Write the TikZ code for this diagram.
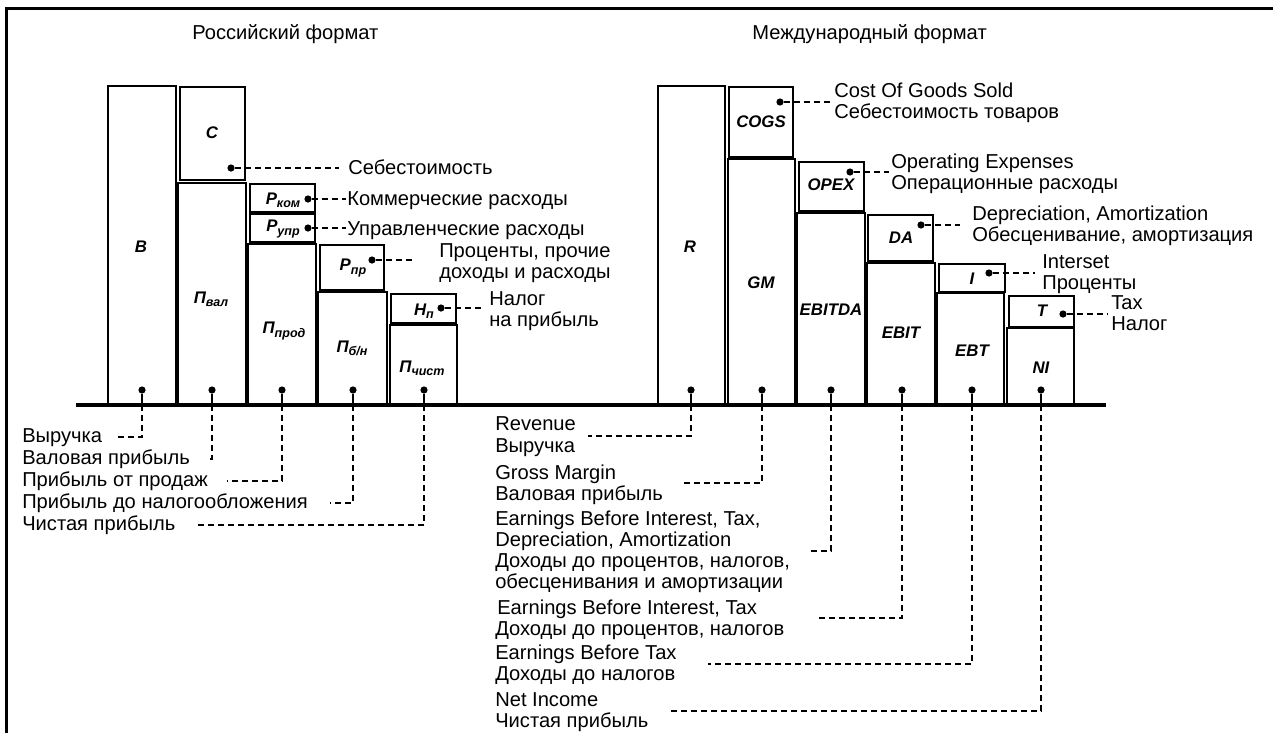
\documentclass[tikz,border=0pt]{standalone}
\usepackage{fontspec}
\setmainfont{Liberation Sans}
\newcommand\sbs[1]{\raisebox{-0.35ex}{\fontsize{9.4pt}{10pt}\selectfont #1}}
\begin{document}
\begin{tikzpicture}[x=0.75pt,y=-0.75pt,
  frame/.style={line width=2.6pt},
  box/.style={draw=black, line width=1.4pt},
  axis/.style={line width=3.4pt},
  lbl/.style={font=\fontsize{12.6pt}{14pt}\selectfont\bfseries\itshape, inner sep=0pt},
  txt/.style={font=\fontsize{15.1pt}{16pt}\selectfont, inner sep=0pt, anchor=base west},
  dot/.style={circle, fill=black, inner sep=0pt, minimum size=5.4pt},
  leader/.style={line width=0.9pt, dash pattern=on 4.5pt off 3pt},
  stem/.style={line width=0.9pt}]
\useasboundingbox (0,0) rectangle (1273,733);

% open frame: left and top edges
\draw[frame] (6.5,733) -- (6.5,8.3) -- (1273,8.3);

% headings
\node[txt] (tRu) at (192,39) {Российский формат};
\node[txt] (tInt) at (752,39) {Международный формат};

% ---------- Russian format bars ----------
\draw[box] (108,86) rectangle (176,405);
\draw[box] (180,87) rectangle (245,180);
\draw[box] (178,183) rectangle (246,405);
\draw[box] (250,184) rectangle (315,212);
\draw[box] (250,214) rectangle (315,242);
\draw[box] (248,244) rectangle (316,405);
\draw[box] (320,245) rectangle (384,290);
\draw[box] (318,292) rectangle (387,405);
\draw[box] (391,294) rectangle (456,323);
\draw[box] (390,325) rectangle (457,405);

\node[lbl] (lV) at (141,247) {В};
\node[lbl] (lS) at (212,133) {С};
\node[lbl] (lPval) at (211,299) {П\sbs{вал}};
\node[lbl] (lRkom) at (283,200) {Р\sbs{ком}};
\node[lbl] (lRupr) at (283,229) {Р\sbs{упр}};
\node[lbl] (lPprod) at (284,331) {П\sbs{прод}};
\node[lbl] (lRpr) at (353,268) {Р\sbs{пр}};
\node[lbl] (lPbn) at (352,348) {П\sbs{б/н}};
\node[lbl] (lNp) at (424,311) {Н\sbs{п}};
\node[lbl] (lPch) at (422,368) {П\sbs{чист}};

% ---------- International format bars ----------
\draw[box] (658,86) rectangle (725,405);
\draw[box] (729,87) rectangle (793,157);
\draw[box] (728,159) rectangle (795,405);
\draw[box] (799,162) rectangle (864,211);
\draw[box] (797,213) rectangle (865,405);
\draw[box] (868,215) rectangle (933,261);
\draw[box] (867,263) rectangle (935,405);
\draw[box] (939,264) rectangle (1005,292);
\draw[box] (937,293) rectangle (1004,405);
\draw[box] (1009,296) rectangle (1074,327);
\draw[box] (1007,328) rectangle (1074,405);

\node[lbl] (lR) at (690,247) {R};
\node[lbl] (lCOGS) at (761,122) {COGS};
\node[lbl] (lGM) at (761,283) {GM};
\node[lbl] (lOPEX) at (831,185) {OPEX};
\node[lbl] (lEBITDA) at (831,310) {EBITDA};
\node[lbl] (lDA) at (901,238) {DA};
\node[lbl] (lEBIT) at (901,333) {EBIT};
\node[lbl] (lI) at (972,279) {I};
\node[lbl] (lEBT) at (972,351) {EBT};
\node[lbl] (lT) at (1042,311) {T};
\node[lbl] (lNI) at (1041,368) {NI};

% base line
\coordinate (axL) at (76,405);
\coordinate (axR) at (1106,405);
\draw[axis] (axL) -- (axR);

% ---------- expense call-outs (Russian) ----------
\node[dot] (dS) at (231,168) {};
\coordinate (eS) at (339,168);
\node[txt] (tS) at (348,174) {Себестоимость};
\draw[leader] (dS) -- (eS);

\node[dot] (dRkom) at (308,199) {};
\coordinate (eRkom) at (346,199);
\node[txt] (tRkom) at (347,205) {Коммерческие расходы};
\draw[leader] (dRkom) -- (eRkom);

\node[dot] (dRupr) at (308,228) {};
\coordinate (eRupr) at (346,228);
\node[txt] (tRupr) at (347,235) {Управленческие расходы};
\draw[leader] (dRupr) -- (eRupr);

\node[dot] (dRpr) at (372,260) {};
\coordinate (eRpr) at (412,260);
\node[txt] (tRpr1) at (439,257) {Проценты, прочие};
\node[txt] (tRpr2) at (439,278) {доходы и расходы};
\draw[leader] (dRpr) -- (eRpr);

\node[dot] (dNp) at (441,308) {};
\coordinate (eNp) at (484,308);
\node[txt] (tNp1) at (489,305) {Налог};
\node[txt] (tNp2) at (489,326) {на прибыль};
\draw[leader] (dNp) -- (eNp);

% ---------- expense call-outs (international) ----------
\node[dot] (dCOGS) at (780,102) {};
\coordinate (eCOGS) at (832,102);
\node[txt] (tCOGS1) at (834,97) {Cost Of Goods Sold};
\node[txt] (tCOGS2) at (834,118) {Себестоимость товаров};
\draw[leader] (dCOGS) -- (eCOGS);

\node[dot] (dOPEX) at (850,172) {};
\coordinate (eOPEX) at (889,172);
\node[txt] (tOPEX1) at (891,168) {Operating Expenses};
\node[txt] (tOPEX2) at (891,189) {Операционные расходы};
\draw[leader] (dOPEX) -- (eOPEX);

\node[dot] (dDA) at (921,225) {};
\coordinate (eDA) at (960,225);
\node[txt] (tDA1) at (972,220) {Depreciation, Amortization};
\node[txt] (tDA2) at (972,241) {Обесценивание, амортизация};
\draw[leader] (dDA) -- (eDA);

\node[dot] (dI) at (989,273) {};
\coordinate (eI) at (1035,273);
\node[txt] (tI1) at (1042,268) {Interset};
\node[txt] (tI2) at (1042,289) {Проценты};
\draw[leader] (dI) -- (eI);

\node[dot] (dT) at (1063,314) {};
\coordinate (eT) at (1108,314);
\node[txt] (tT1) at (1111,309) {Tax};
\node[txt] (tT2) at (1111,330) {Налог};
\draw[leader] (dT) -- (eT);

% ---------- result call-outs (Russian) ----------
\foreach \n/\x/\ey/\ex in {V/142/437/114, Pval/212/459/207, Pprod/282/481/227, Pbn/353/503/330, Pch/424/525/194}{
  \node[dot] (b\n) at (\x,390) {};
  \coordinate (a\n) at (\x,405);
  \coordinate (e\n) at (\ex,\ey);
  \draw[stem] (b\n) -- (a\n);
  \draw[leader] (a\n) |- (e\n);
}
\node[txt] (rV) at (22,442) {Выручка};
\node[txt] (rPval) at (22,464) {Валовая прибыль};
\node[txt] (rPprod) at (22,486) {Прибыль от продаж};
\node[txt] (rPbn) at (22,508) {Прибыль до налогообложения};
\node[txt] (rPch) at (22,530) {Чистая прибыль};

% ---------- result call-outs (international) ----------
\foreach \n/\x/\ey/\ex in {R/691/436/588, GM/762/483/680, EBITDA/831/551/811, EBIT/902/618/818, EBT/972/664/708, NI/1041/711/670}{
  \node[dot] (b\n) at (\x,390) {};
  \coordinate (a\n) at (\x,405);
  \coordinate (e\n) at (\ex,\ey);
  \draw[stem] (b\n) -- (a\n);
  \draw[leader] (a\n) |- (e\n);
}
\node[txt] (rR1) at (495,430) {Revenue};
\node[txt] (rR2) at (495,452) {Выручка};
\node[txt] (rGM1) at (495,479) {Gross Margin};
\node[txt] (rGM2) at (495,500) {Валовая прибыль};
\node[txt] (rEBITDA1) at (495,525) {Earnings Before Interest, Tax,};
\node[txt] (rEBITDA2) at (495,546) {Depreciation, Amortization};
\node[txt] (rEBITDA3) at (495,567) {Доходы до процентов, налогов,};
\node[txt] (rEBITDA4) at (495,588) {обесценивания и амортизации};
\node[txt] (rEBIT1) at (497,614) {Earnings Before Interest, Tax};
\node[txt] (rEBIT2) at (495,635) {Доходы до процентов, налогов};
\node[txt] (rEBT1) at (495,659) {Earnings Before Tax};
\node[txt] (rEBT2) at (495,680) {Доходы до налогов};
\node[txt] (rNI1) at (495,706) {Net Income};
\node[txt] (rNI2) at (495,727) {Чистая прибыль};
\end{tikzpicture}
\end{document}
